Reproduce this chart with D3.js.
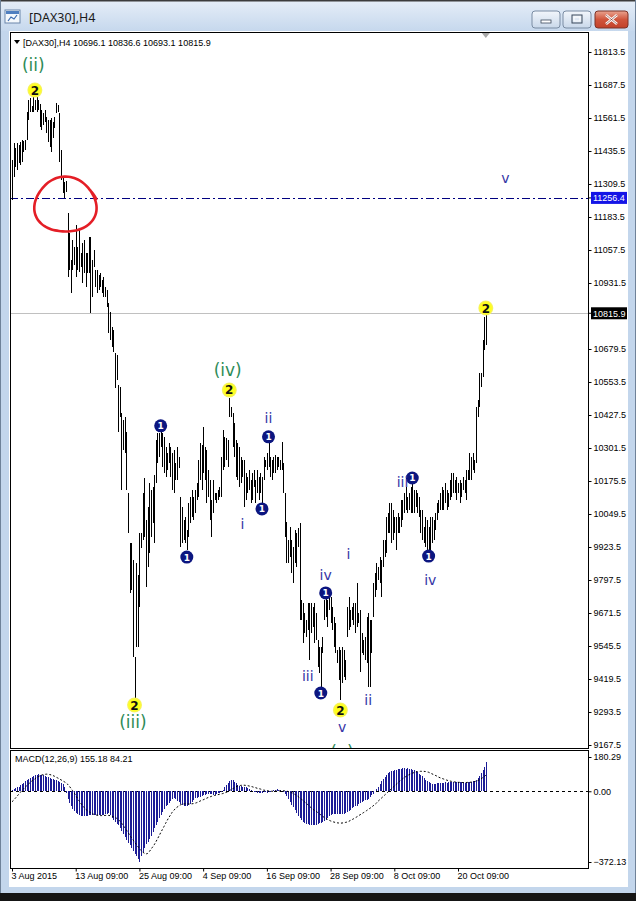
<!DOCTYPE html>
<html><head><meta charset="utf-8">
<script src="https://cdn.jsdelivr.net/npm/d3@7"></script>
<style>
html,body{margin:0;padding:0;background:#fff;}
svg{display:block;}
text{font-family:"Liberation Sans",Arial,sans-serif;}
</style></head>
<body>
<svg id="c" width="636" height="901"></svg>
<script>
// ---------------- DATA ----------------
const high = [11401,11466,11447,11466,11458,11470,11477,11474,11477,11584,11630,11638,11607,11642,11630,11642,11630,11615,11592,11581,11592,11565,11554,11554,11562,11546,11565,11619,11611,11581,11439,11336,11317,11321,11199,11122,11019,11096,11069,11153,11069,11134,11046,11084,11096,11046,11046,11107,11107,11019,11057,10981,10981,10962,10970,10943,10954,10916,10905,10855,10821,10764,10752,10664,10657,10542,10534,10435,10408,10420,10363,10130,9939,9939,9874,9504,9862,9817,9977,9977,10130,10187,10027,10076,10168,10141,10153,10199,10332,10359,10359,10370,10359,10344,10305,10282,10321,10305,10282,10294,10244,10305,10267,10114,10076,10027,10038,9988,10092,10114,10141,10114,10141,10168,10256,10321,10313,10382,10305,10294,10218,10179,10103,10179,10130,10130,10141,10153,10267,10370,10344,10340,10332,10492,10458,10435,10397,10332,10321,10305,10267,10256,10256,10206,10191,10218,10179,10206,10218,10179,10218,10191,10206,10191,10267,10256,10282,10321,10267,10256,10267,10275,10267,10267,10256,10324,10244,10130,10019,9950,10000,9950,9924,9988,9977,9996,10015,9721,9710,9672,9645,9710,9710,9710,9695,9710,9672,9568,9542,9542,9580,9721,9740,9721,9733,9733,9695,9656,9633,9530,9542,9530,9542,9530,9492,9695,9733,9683,9695,9710,9710,9786,9672,9683,9595,9568,9580,9656,9672,9645,9645,9786,9824,9862,9847,9885,9874,9950,9950,10038,10053,10092,10092,10065,10038,10038,10053,10038,10103,10103,10130,10153,10114,10130,10153,10172,10141,10141,10130,10114,10065,10065,10000,10038,10027,10000,10038,10038,10027,10053,10092,10103,10130,10153,10141,10168,10141,10130,10179,10206,10206,10179,10191,10168,10179,10168,10191,10179,10218,10218,10282,10267,10282,10256,10458,10485,10588,10588,10714,10802,10836.6];
const low = [11248,11336,11374,11363,11390,11382,11393,11432,11439,11477,11554,11584,11584,11584,11592,11584,11592,11527,11516,11535,11546,11504,11470,11451,11432,11485,11523,11581,11584,11393,11325,11275,11256,11279,10954,10981,10893,10981,11000,10954,10981,10973,10993,10931,10970,10916,10970,10970,10817,10878,10993,10916,10893,10905,10916,10893,10878,10878,10840,10741,10714,10687,10668,10531,10561,10363,10420,10141,10294,10283,10141,9977,9748,9759,9504,9339,9542,9542,9695,9920,9950,9962,9771,9847,9901,9962,10015,9939,10168,10244,10267,10305,10229,10206,10191,10218,10244,10191,10141,10130,10179,10179,10225,9924,9939,9950,9939,9912,9962,10015,10038,10027,10053,10103,10114,10179,10141,10206,10179,10092,10114,10027,9962,10053,10103,10092,10103,10114,10114,10218,10229,10256,10229,10420,10420,10305,10267,10191,10179,10153,10168,10191,10076,10103,10130,10141,10092,10103,10153,10092,10130,10103,10130,10084,10179,10229,10218,10229,10191,10179,10206,10206,10218,10229,10218,10218,10130,9962,9862,9862,9885,9824,9786,9862,9847,9924,9645,9645,9557,9595,9580,9607,9492,9595,9618,9557,9568,9465,9443,9366,9519,9645,9656,9618,9683,9633,9607,9542,9519,9481,9416,9339,9404,9427,9416,9580,9607,9618,9645,9626,9595,9618,9633,9446,9519,9511,9492,9481,9389,9389,9519,9656,9733,9759,9798,9786,9733,9847,9885,9901,9977,9977,9939,9950,9977,9912,9977,9977,10000,10027,10053,10065,10053,10065,10053,10053,10053,10076,10053,10038,9977,9950,9939,9924,9912,9901,9912,9939,9950,9988,10027,10053,10065,10065,10065,10092,10065,10076,10103,10114,10130,10130,10103,10130,10092,10114,10141,10130,10103,10179,10179,10179,10218,10206,10244,10420,10458,10534,10573,10676,10693.1];
const lastBar = [10696.1, 10836.6, 10693.1, 10815.9]; // O H L C
const macdMain = [5,10,15,20,25,35,40,45,55,58,62,70,76,82,85,88,90,88,86,84,80,76,73,70,66,62,60,57,55,50,45,38,20,
-10,-40,-60,-80,-95,-105,-115,-120,-125,-128,-130,-128,-130,-128,-126,-125,-127,-125,-124,-126,-125,-127,-125,-123,-120,-118,-115,-125,
-140,-150,-160,-170,-180,-195,-210,-225,-240,-255,-270,-285,-300,-315,-330,-340,-355,-372,
-340,-320,-300,-280,-265,-250,-235,-215,-195,-175,-160,-140,-125,-110,-95,-80,-70,-60,-50,-40,-35,-40,-50,-55,-65,-70,-75,-78,-75,-70,-65,-55,-45,-38,-35,-32,-28,-25,-22,-18,-15,-12,-12,-15,-18,-20,-15,-10,-8,-3,
5,20,35,45,55,60,58,50,42,35,30,28,25,22,20,15,10,5,2,-3,-5,-8,-8,-10,-8,-6,-5,-8,-6,-3,2,5,8,10,8,5,2,-5,
-15,-25,-40,-55,-70,-85,-100,-115,-130,-140,-150,-160,-165,-170,-172,-175,-176,-175,-178,-176,-172,-168,-165,-160,-155,-150,-140,-130,-125,-120,-118,-120,-118,-120,-122,-120,-118,-115,-110,-105,-98,-90,-85,-80,-75,-68,-62,-58,-52,-48,-45,-40,-32,-22,-12,
0,12,25,40,55,65,75,85,95,100,105,108,110,112,115,118,118,120,120,118,120,118,115,112,110,105,100,92,85,78,68,60,55,48,42,40,38,40,42,45,45,46,45,47,46,47,48,48,47,48,47,48,47,48,47,46,48,48,49,50,52,55,60,68,80,95,110,130,155.18];
const macdSignal = [-55,-47,-37,-27,-17,-7,4,12,21,29,37,45,53,59,65,72,76,81,85,87,89,90,90,88,86,83,79,74,70,65,60,55,50,
45,37,28,16,4,-8,-22,-36,-50,-62,-74,-84,-94,-101,-107,-112,-118,-121,-124,-126,-127,-128,-128,-128,-127,-127,-127,-128,
-130,-134,-138,-142,-148,-157,-167,-178,-191,-204,-216,-230,-243,-255,-266,-279,-290,-302,
-312,-320,-326,-330,-327,-318,-306,-294,-282,-267,-251,-235,-218,-202,-186,-169,-153,-138,-125,-111,-101,-91,-84,-78,-72,-68,-67,-66,-66,-67,-67,-66,-65,-63,-60,-57,-52,-48,-45,-41,-37,-33,-30,-27,-25,-22,-20,-18,-16,-14,
-12,-9,-6,-3,3,8,13,18,23,27,29,31,32,32,31,30,28,26,24,21,19,16,14,12,9,6,5,3,2,1,0,0,0,1,1,2,2,3,
2,1,-1,-4,-7,-10,-16,-21,-27,-34,-41,-47,-55,-63,-70,-78,-86,-93,-100,-104,-111,-118,-124,-131,-137,-142,-147,-152,-156,-159,-162,-164,-166,-167,-168,-167,-166,-164,-162,-159,-154,-150,-145,-140,-135,-129,-124,-119,-113,-108,-102,-96,-90,-84,-77,
-70,-63,-53,-45,-37,-29,-21,-13,-5,3,11,19,27,35,43,51,58,65,72,77,83,87,92,95,98,101,103,104,105,105,105,104,102,100,96,92,88,84,80,75,71,68,65,62,59,56,54,52,50,49,48,47,47,46,46,46,46,47,47,48,49,51,53,56,60,65,71,77,84.21];
const priceTicks = [11813.5,11687.5,11561.5,11435.5,11309.5,11183.5,11057.5,10931.5,10805.5,10679.5,10553.5,10427.5,10301.5,10175.5,10049.5,9923.5,9797.5,9671.5,9545.5,9419.5,9293.5,9167.5];
const priceTicksShown = priceTicks.filter(v => v !== 10805.5);
const macdTicks = [180.29, 0, -372.13];
const timeLabels = ["3 Aug 2015","13 Aug 09:00","25 Aug 09:00","4 Sep 09:00","16 Sep 09:00","28 Sep 09:00","8 Oct 09:00","20 Oct 09:00"];
const timeBars = [0,39,78,117,156,195,234,273];
const lineLevel = 11256.4;   // dash-dot horizontal line
const bidLevel = 10815.9;    // bid line
// Elliott wave markers (bar index, price)
const yellowMarks = [{bar:14,price:11668},{bar:75,price:9320},{bar:133,price:10523},{bar:201,price:9301},{bar:290,price:10836}];
const navyMarks = [{bar:91,price:10386},{bar:107,price:9885},{bar:157,price:10344},{bar:153,price:10069},{bar:189,price:9366},{bar:192,price:9748},{bar:245,price:10187},{bar:255,price:9889}];
const greenLabels = [{t:"(ii)",bar:13,price:11764},{t:"(iii)",bar:74,price:9255},{t:"(iv)",bar:132,price:10599},{t:"(v)",bar:202,price:9141}];
const navyLabels = [{t:"v",bar:202,price:9236},{t:"i",bar:141,price:10011},{t:"ii",bar:157,price:10416},{t:"iii",bar:181,price:9430},{t:"iv",bar:192,price:9817},{t:"i",bar:206,price:9897},{t:"ii",bar:218,price:9339},{t:"iii",bar:239,price:10172},{t:"iv",bar:256,price:9798},{t:"v",bar:302,price:11332}];
const redNote = {bar:32.7, price:11229, rBars:19, rPrice:105};

// ---------------- DRAW ----------------
const svg = d3.select("#c");
const defs = svg.append("defs");
const FR = {l:10, r:588, t:32, b:748};
const MP = {t:750, b:868};

const x = d3.scaleLinear().domain([0,290]).range([12,485.8]);
const y = d3.scaleLinear().domain([9167.5,11813.5]).range([745,52]);
const ym = d3.scaleLinear().domain([-372.13,180.29]).range([862,757]);

// window chrome
const tg = defs.append("linearGradient").attr("id","tb").attr("x1",0).attr("y1",0).attr("x2",0).attr("y2",1);
tg.append("stop").attr("offset","0").attr("stop-color","#e6eef8");
tg.append("stop").attr("offset","1").attr("stop-color","#c6d8ed");
svg.append("rect").attr("width",636).attr("height",901).attr("fill","#c3d6ec");
svg.append("rect").attr("x",0).attr("y",0).attr("width",636).attr("height",31).attr("fill","url(#tb)");
svg.append("rect").attr("x",0).attr("y",0).attr("width",636).attr("height",1.5).attr("fill","#3c3c3c");
svg.append("rect").attr("x",0).attr("y",893).attr("width",636).attr("height",8).attr("fill","#151515");
svg.append("rect").attr("x",0).attr("y",0).attr("width",1).attr("height",893).attr("fill","#6f8299");
svg.append("rect").attr("x",635).attr("y",0).attr("width",1).attr("height",893).attr("fill","#6f8299");
// icon
const ic = svg.append("g").attr("transform","translate(5,10)");
ic.append("rect").attr("width",15).attr("height",13).attr("fill","#f4f8fc").attr("stroke","#6a86aa");
ic.append("rect").attr("x",1).attr("y",1).attr("width",13).attr("height",3).attr("fill","#4f7fc0");
ic.append("path").attr("d","M3,11 L6,7 L9,9 L12,5").attr("fill","none").attr("stroke","#3a6bb0").attr("stroke-width",1.2);
svg.append("text").attr("x",29).attr("y",22).attr("font-size",12.5).attr("fill","#1a1a1a")
  .style("font-family","'Noto Sans','Liberation Sans',sans-serif").text("[DAX30],H4");
// buttons
const bg = defs.append("linearGradient").attr("id","bt").attr("x1",0).attr("y1",0).attr("x2",0).attr("y2",1);
bg.append("stop").attr("offset","0").attr("stop-color","#f2f6fb");
bg.append("stop").attr("offset","1").attr("stop-color","#c9d8ea");
const rg = defs.append("linearGradient").attr("id","rt").attr("x1",0).attr("y1",0).attr("x2",0).attr("y2",1);
rg.append("stop").attr("offset","0").attr("stop-color","#eaa490");
rg.append("stop").attr("offset","0.5").attr("stop-color","#d0553c");
rg.append("stop").attr("offset","1").attr("stop-color","#c2412a");
svg.append("rect").attr("x",532).attr("y",11).attr("width",28).attr("height",17).attr("rx",3).attr("fill","url(#bt)").attr("stroke","#7a8ca3");
svg.append("rect").attr("x",541).attr("y",20).attr("width",10).attr("height",3).attr("fill","#fff").attr("stroke","#3c4a5c").attr("stroke-width",0.8);
svg.append("rect").attr("x",563).attr("y",11).attr("width",28).attr("height",17).attr("rx",3).attr("fill","url(#bt)").attr("stroke","#7a8ca3");
svg.append("rect").attr("x",572).attr("y",15).attr("width",10).attr("height",8).attr("fill","none").attr("stroke","#3c4a5c").attr("stroke-width",1);
svg.append("rect").attr("x",574).attr("y",17).attr("width",6).attr("height",4).attr("fill","none").attr("stroke","#fff").attr("stroke-width",1);
svg.append("rect").attr("x",595).attr("y",11).attr("width",33).attr("height",17).attr("rx",3).attr("fill","url(#rt)").attr("stroke","#7c3226");
svg.append("path").attr("d","M606,15 L617,24 M617,15 L606,24").attr("stroke","#fff").attr("stroke-width",2.6);
svg.append("path").attr("d","M606,15 L617,24 M617,15 L606,24").attr("stroke","#6b2a20").attr("stroke-width",0.6).attr("fill","none");

// inner white area
svg.append("rect").attr("x",9).attr("y",31).attr("width",619).attr("height",856).attr("fill","#fff");

// clip
defs.append("clipPath").attr("id","cm").append("rect").attr("x",FR.l+1).attr("y",FR.t+1).attr("width",FR.r-FR.l-1).attr("height",FR.b-FR.t-1);
defs.append("clipPath").attr("id","cp").append("rect").attr("x",FR.l+1).attr("y",MP.t+1).attr("width",FR.r-FR.l-1).attr("height",MP.b-MP.t-1);

const main = svg.append("g").attr("clip-path","url(#cm)");
// bid line
main.append("line").attr("x1",FR.l).attr("x2",FR.r).attr("y1",Math.round(y(bidLevel))+0.5).attr("y2",Math.round(y(bidLevel))+0.5)
  .attr("stroke","#c0c0c0").attr("stroke-width",1);
// dash-dot line
main.append("line").attr("x1",FR.l).attr("x2",FR.r).attr("y1",Math.round(y(lineLevel))+0.5).attr("y2",Math.round(y(lineLevel))+0.5)
  .attr("stroke","#000080").attr("stroke-width",1).attr("stroke-dasharray","8,3,2,3");
// bars
main.append("g").selectAll("line").data(high).join("line")
  .attr("x1",(d,i)=>Math.round(x(i))+0.5).attr("x2",(d,i)=>Math.round(x(i))+0.5)
  .attr("y1",d=>y(d)).attr("y2",(d,i)=>y(low[i]))
  .attr("stroke","#000").attr("stroke-width",1).attr("shape-rendering","crispEdges");

// red hand-drawn circle
const pts = d3.range(0, 1.08, 0.02).map(t => {
  const a = -0.6 + t*2*Math.PI;
  const wob = 1 + 0.04*Math.sin(3*a) + (t>1 ? 0.06*(t-1)/0.08 : 0);
  return [x(redNote.bar + redNote.rBars*Math.cos(a)*wob), y(redNote.price - redNote.rPrice*Math.sin(a)*wob)];
});
main.append("path").attr("d", d3.line().curve(d3.curveBasis)(pts)).attr("fill","none")
  .attr("stroke","#e41e26").attr("stroke-width",2.6).attr("stroke-linecap","round");

// markers
const yg = defs.append("radialGradient").attr("id","yg");
yg.append("stop").attr("offset","0.7").attr("stop-color","#ffff1a");
yg.append("stop").attr("offset","1").attr("stop-color","#f4f070");
const ymk = main.append("g").selectAll("g").data(yellowMarks).join("g")
  .attr("transform",d=>`translate(${x(d.bar)},${y(d.price)})`);
ymk.append("circle").attr("r",7.5).attr("fill","url(#yg)");
ymk.append("text").attr("text-anchor","middle").attr("y",4.5).attr("font-size",12).attr("font-weight","bold")
  .attr("fill","#111").style("font-family","'DejaVu Sans',sans-serif").text("2");
const nmk = main.append("g").selectAll("g").data(navyMarks).join("g")
  .attr("transform",d=>`translate(${x(d.bar)},${y(d.price)})`);
nmk.append("circle").attr("r",6.5).attr("fill","#0c1680");
nmk.append("text").attr("text-anchor","middle").attr("y",3.5).attr("font-size",9).attr("font-weight","bold")
  .attr("fill","#fff").style("font-family","'DejaVu Sans',sans-serif").text("1");

// wave labels
main.append("g").selectAll("text").data(greenLabels).join("text")
  .attr("x",d=>x(d.bar)).attr("y",d=>y(d.price)).attr("dy","0.35em").attr("text-anchor","middle")
  .attr("font-size",17).attr("fill","#2e8b57").style("font-family","'DejaVu Sans',sans-serif").text(d=>d.t);
main.append("g").selectAll("text").data(navyLabels).join("text")
  .attr("x",d=>x(d.bar)).attr("y",d=>y(d.price)).attr("dy","0.35em").attr("text-anchor","middle")
  .attr("font-size",14).attr("fill","#3535a6").style("font-family","'DejaVu Sans',sans-serif").text(d=>d.t);

// shift marker triangle
svg.append("path").attr("d",`M${x(290)-4},33 L${x(290)+4},33 L${x(290)},38 Z`).attr("fill","#a8a8a8");

// header
svg.append("path").attr("d","M14,40 L20,40 L17,44 Z").attr("fill","#000");
svg.append("text").attr("x",23).attr("y",46).attr("font-size",9).attr("fill","#000")
  .text("[DAX30],H4  " + lastBar.map(v=>v.toFixed(1)).join(" "));

// frames
svg.append("rect").attr("x",FR.l+0.5).attr("y",FR.t+0.5).attr("width",FR.r-FR.l).attr("height",FR.b-FR.t)
  .attr("fill","none").attr("stroke","#000");
svg.append("rect").attr("x",FR.l+0.5).attr("y",MP.t+0.5).attr("width",FR.r-FR.l).attr("height",MP.b-MP.t)
  .attr("fill","none").attr("stroke","#000");

// price axis
const pa = svg.append("g").attr("transform",`translate(${FR.r+0.5},0)`)
  .call(d3.axisRight(y).tickValues(priceTicksShown).tickSize(3).tickPadding(2).tickFormat(d3.format(".1f")));
pa.select(".domain").remove();
pa.selectAll("text").attr("font-size",9).attr("fill","#000").style("font-family","'Liberation Sans',Arial,sans-serif");
pa.selectAll("line").attr("stroke","#000");
// level labels
[[lineLevel,"#1414e6"],[bidLevel,"#000"]].forEach(([v,c])=>{
  const yy = y(v);
  svg.append("line").attr("x1",FR.r).attr("x2",FR.r+3).attr("y1",yy).attr("y2",yy).attr("stroke","#000");
  svg.append("rect").attr("x",FR.r+3).attr("y",yy-6).attr("width",36).attr("height",12).attr("fill",c);
  svg.append("text").attr("x",FR.r+5).attr("y",yy+3.3).attr("font-size",9).attr("fill","#fff").text(v.toFixed(1));
});

// MACD panel
const mp = svg.append("g").attr("clip-path","url(#cp)");
mp.append("line").attr("x1",FR.l).attr("x2",FR.r).attr("y1",Math.round(ym(0))+0.5).attr("y2",Math.round(ym(0))+0.5)
  .attr("stroke","#000").attr("stroke-dasharray","3,3");
mp.append("g").selectAll("line").data(macdMain).join("line")
  .attr("x1",(d,i)=>Math.round(x(i))+0.5).attr("x2",(d,i)=>Math.round(x(i))+0.5)
  .attr("y1",ym(0)).attr("y2",d=>ym(d))
  .attr("stroke","#1c1c96").attr("stroke-width",1).attr("shape-rendering","crispEdges");
mp.append("path").datum(macdSignal).attr("d",d3.line().x((d,i)=>x(i)).y(d=>ym(d)))
  .attr("fill","none").attr("stroke","#000").attr("stroke-width",1).attr("stroke-dasharray","2,2");
svg.append("text").attr("x",15).attr("y",762).attr("font-size",9).attr("fill","#000")
  .text(`MACD(12,26,9) ${macdMain[macdMain.length-1].toFixed(2)} ${macdSignal[macdSignal.length-1].toFixed(2)}`);
const ma = svg.append("g").attr("transform",`translate(${FR.r+0.5},0)`)
  .call(d3.axisRight(ym).tickValues(macdTicks).tickSize(3).tickPadding(2).tickFormat(d3.format(".2f")));
ma.select(".domain").remove();
ma.selectAll("text").attr("font-size",9).attr("fill","#000").style("font-family","'Liberation Sans',Arial,sans-serif");
ma.selectAll("line").attr("stroke","#000");

// time axis
const ta = svg.append("g").attr("transform",`translate(0,${MP.b+0.5})`)
  .call(d3.axisBottom(x).tickValues(timeBars).tickSize(3).tickPadding(1).tickFormat((d,i)=>timeLabels[i]));
ta.select(".domain").remove();
ta.selectAll("text").attr("text-anchor","start").attr("dx",-1).attr("font-size",9).attr("fill","#000")
  .style("font-family","'Liberation Sans',Arial,sans-serif");
ta.selectAll("line").attr("stroke","#000");
</script>
</body></html>
